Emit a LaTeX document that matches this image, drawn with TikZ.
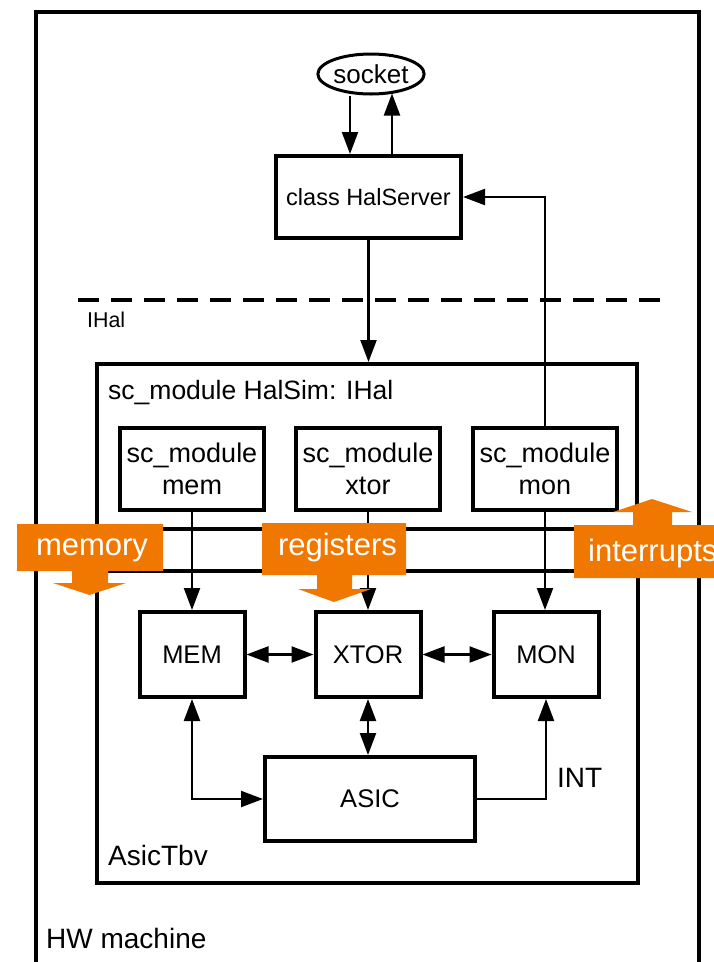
\documentclass[tikz,border=0pt]{standalone}
\usepackage{fontspec}
\setmainfont{Liberation Sans}
\usetikzlibrary{arrows.meta, shapes.geometric}
\definecolor{flowor}{RGB}{241, 120, 0}

\begin{document}
\begin{tikzpicture}[x=1pt, y=-1pt,
        boxframe/.style={rectangle, draw, line width=4pt, inner sep=0pt},
        unit/.style={rectangle, draw, line width=4pt, fill=white, align=center, inner sep=0pt,
                     font=\fontsize{25.5}{30}\selectfont},
        smod/.style={unit, minimum width=144pt, minimum height=82pt, font=\fontsize{27}{32}\selectfont},
        hwunit/.style={unit, minimum width=105pt, minimum height=85pt},
        tag/.style={anchor=base west, inner sep=0pt, font=\fontsize{28}{32}\selectfont},
        arr/.style={line width=2.2pt, -{Triangle[length=22pt, width=16pt]}},
        biarr/.style={line width=2.2pt, {Triangle[length=22pt, width=16pt]}-{Triangle[length=22pt, width=16pt]}},
        flowtxt/.style={text=white, inner sep=0pt, font=\fontsize{31}{34}\selectfont}
    ]
        \useasboundingbox (0,0) rectangle (713,962);

        \node[boxframe, minimum width=663pt, minimum height=978pt] (hw) at (367.5,501) {};
        \node[tag] (hwlbl) at (46,948) {HW machine};

        \node[ellipse, draw, line width=3pt, fill=white, minimum width=104pt, minimum height=40pt, inner sep=0pt,
              font=\fontsize{26}{30}\selectfont] (socket) at (371,74) {socket};
        \node[unit, minimum width=185pt, minimum height=82pt, font=\fontsize{23.5}{28}\selectfont] (server) at (368.5,197) {class HalServer};

        \draw[line width=4pt, dash pattern=on 21pt off 12pt] (78,300) -- (660,300);
        \node[tag, font=\fontsize{21.4}{24}\selectfont] (ihal) at (87,327) {IHal};

        \node[boxframe, minimum width=540pt, minimum height=165pt] (halsim) at (367,446.5) {};
        \node[tag, font=\fontsize{26.5}{30}\selectfont] (halsimlbl) at (108,399) {sc\_module HalSim: IHal};
        \node[smod] (smem)  at (192,469) {sc\_module\\mem};
        \node[smod] (sxtor) at (368,469) {sc\_module\\xtor};
        \node[smod] (smon)  at (545,469) {sc\_module\\mon};

        \node[boxframe, minimum width=541pt, minimum height=312pt] (asictbv) at (367.5,727) {};
        \node[tag] (asictbvlbl) at (108,865) {AsicTbv};
        \node[hwunit] (hwmem)  at (192,654.5) {MEM};
        \node[hwunit] (hwxtor) at (368,654.5) {XTOR};
        \node[hwunit] (hwmon)  at (546,654.5) {MON};
        \node[unit, minimum width=210pt, minimum height=84pt] (asic) at (370,799) {ASIC};
        \node[tag] (intlbl) at (557,787) {INT};

        \coordinate (sockdn) at ([xshift=-21pt]socket.south);
        \coordinate (sockup) at ([xshift=21pt, yshift=2pt]socket.south);
        \draw[arr] (sockdn) -- (sockdn |- server.north);
        \draw[arr] (sockup |- server.north) -- (sockup);
        \draw[arr] (server.south) -- (server.south |- halsim.north);
        \draw[arr] (smon.north) |- (server.east);

        \draw[arr] (smem.south) -- (smem.south |- hwmem.north);
        \draw[arr] (sxtor.south) -- (sxtor.south |- hwxtor.north);
        \draw[arr] (smon.south) -- (smon.south |- hwmon.north);
        \draw[biarr] (hwmem.east) -- (hwxtor.west);
        \draw[biarr] (hwxtor.east) -- (hwmon.west);
        \draw[biarr] (hwxtor.south) -- (hwxtor.south |- asic.north);
        \draw[biarr] (hwmem.south) |- (asic.west);
        \draw[arr] (asic.east) -| (hwmon.south);

        \fill[flowor] (17,524) -- (163,524) -- (163,571) -- (108,571) -- (108,583) -- (126,583) -- (89.5,595)
            -- (53,583) -- (72,583) -- (72,571) -- (17,571) -- cycle;
        \node[flowtxt, anchor=base] (memlbl) at (92,555) {memory};
        \fill[flowor] (262,523) -- (406,523) -- (406,575) -- (352,575) -- (352,589) -- (371,589) -- (334,602)
            -- (298,589) -- (317,589) -- (317,575) -- (262,575) -- cycle;
        \node[flowtxt, anchor=base] (reglbl) at (337.5,555) {registers};
        \fill[flowor] (574,525) -- (633,525) -- (633,512) -- (613,512) -- (652,499) -- (692,512) -- (672,512)
            -- (672,525) -- (730,525) -- (730,578) -- (574,578) -- cycle;
        \node[flowtxt, anchor=base west] (intrlbl) at (588,561) {interrupts};
    \end{tikzpicture}
\end{document}
